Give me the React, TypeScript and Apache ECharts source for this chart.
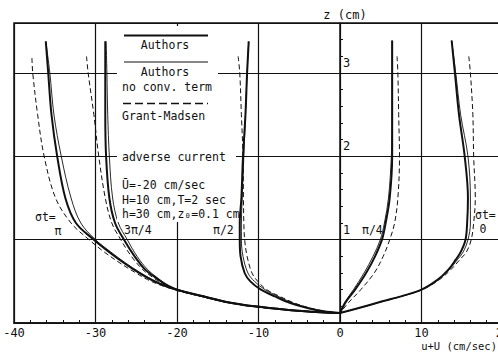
import React, { useEffect, useRef } from "react";
import * as echarts from "echarts";

// Axis settings
const xMin = -40;
const xMax = 20;
const xStep = 10;
const zMin = 0;
const zMax = 3.6;
const zMinorStep = 0.2;
const zLabels = [1, 2, 3];

// Shared near-bed segments (σt = π and 3π/4)
const tailSolid = [[-20.0, 0.40], [-16.8, 0.32], [-13.8, 0.25], [-10.5, 0.2], [-6.6, 0.16], [-2.4, 0.13], [0, 0.12]];
const tailDashed = [[-20.3, 0.40], [-17.1, 0.32], [-14.0, 0.25], [-10.7, 0.2], [-6.8, 0.16], [-2.5, 0.13], [0, 0.12]];

// σt = π
const piAuthors = [[-36.1, 3.38], [-35.8, 3.0], [-35.4, 2.5], [-34.7, 2.0], [-33.7, 1.5], [-32.4, 1.2], [-30.2, 1.0], [-28.3, 0.85], [-26.5, 0.72], [-24.8, 0.61], [-23.2, 0.52], [-21.6, 0.45]];
const piNoConv = [[-36.1, 3.38], [-35.6, 3.0], [-35.1, 2.5], [-34.2, 2.0], [-33.0, 1.5], [-31.8, 1.2], [-30.0, 1.0], [-28.1, 0.85], [-26.3, 0.72], [-24.6, 0.61], [-23.0, 0.52], [-21.5, 0.45]];
const piGM = [[-37.8, 3.18], [-37.7, 3.0], [-37.1, 2.5], [-36.3, 2.0], [-34.9, 1.5], [-33.0, 1.2], [-30.8, 1.0], [-28.9, 0.85], [-27.0, 0.72], [-25.2, 0.61], [-23.6, 0.52], [-21.9, 0.45]];

// σt = 3π/4
const p34Authors = [[-28.8, 3.38], [-28.8, 3.0], [-28.8, 2.5], [-28.7, 2.0], [-28.3, 1.5], [-27.6, 1.2], [-26.5, 1.0], [-25.2, 0.8], [-23.9, 0.64], [-22.7, 0.55], [-21.5, 0.47]];
const p34NoConv = [[-28.7, 3.38], [-28.6, 3.0], [-28.5, 2.5], [-28.3, 2.0], [-27.9, 1.5], [-27.2, 1.2], [-26.1, 1.0], [-24.9, 0.8], [-23.6, 0.64], [-22.5, 0.55], [-21.4, 0.47]];
const p34GM = [[-31.1, 3.2], [-30.9, 3.0], [-30.2, 2.5], [-29.6, 2.0], [-28.8, 1.5], [-28.0, 1.2], [-26.9, 1.0], [-25.6, 0.8], [-24.2, 0.64], [-23.0, 0.55], [-21.8, 0.47]];

// σt = π/2
const p2Authors = [[-11.2, 3.38], [-11.4, 3.0], [-11.6, 2.5], [-11.9, 2.0], [-12.1, 1.5], [-12.3, 1.2], [-12.3, 1.0], [-12.2, 0.8], [-11.7, 0.6], [-11.0, 0.5], [-9.7, 0.4], [-8.0, 0.32], [-6.1, 0.24], [-4.0, 0.18], [-2.0, 0.14], [0, 0.12]];
const p2NoConv = [[-11.2, 3.38], [-11.4, 3.0], [-11.6, 2.5], [-11.8, 2.0], [-12.0, 1.5], [-12.1, 1.2], [-12.1, 1.0], [-11.9, 0.8], [-11.3, 0.6], [-10.5, 0.5], [-9.2, 0.4], [-7.6, 0.32], [-5.8, 0.24], [-3.8, 0.18], [-1.9, 0.14], [0, 0.12]];
const p2GM = [[-12.5, 3.2], [-12.3, 3.0], [-12.1, 2.5], [-11.9, 2.0], [-11.85, 1.5], [-11.8, 1.2], [-11.7, 1.0], [-11.4, 0.8], [-10.8, 0.6], [-10.1, 0.5], [-9.0, 0.4], [-7.4, 0.32], [-5.6, 0.24], [-3.7, 0.18], [-1.8, 0.14], [0, 0.12]];

// σt = π/4
const p4Authors = [[6.4, 3.39], [6.4, 3.0], [6.4, 2.5], [6.4, 2.0], [6.1, 1.5], [5.6, 1.2], [5.15, 1.0], [4.3, 0.8], [3.2, 0.6], [1.85, 0.4], [0.7, 0.25], [0, 0.12]];
const p4NoConv = [[6.4, 3.39], [6.4, 3.0], [6.4, 2.5], [6.3, 2.0], [5.95, 1.5], [5.45, 1.2], [4.95, 1.0], [4.05, 0.8], [2.95, 0.6], [1.65, 0.4], [0.6, 0.25], [0, 0.12]];
const p4GM = [[7.0, 3.2], [7.1, 3.0], [7.2, 2.5], [7.3, 2.0], [7.1, 1.5], [6.7, 1.2], [6.1, 1.0], [5.3, 0.8], [4.2, 0.6], [2.55, 0.4], [1.1, 0.25], [0, 0.12]];

// σt = 0
const p0Authors = [[13.7, 3.39], [14.1, 3.0], [14.6, 2.5], [15.3, 2.0], [15.7, 1.5], [15.6, 1.2], [15.4, 1.0], [14.8, 0.85], [14.2, 0.76], [13.3, 0.64], [12.0, 0.52], [10.0, 0.4], [7.5, 0.32], [5.2, 0.26], [2.3, 0.18], [0, 0.12]];
const p0NoConv = [[13.7, 3.39], [14.2, 3.0], [14.8, 2.5], [15.7, 2.0], [16.0, 1.5], [16.0, 1.2], [15.7, 1.0], [15.1, 0.85], [14.4, 0.76], [13.4, 0.64], [12.0, 0.52], [10.0, 0.4], [7.5, 0.32], [5.2, 0.26], [2.3, 0.18], [0, 0.12]];
const p0GM = [[15.8, 3.2], [16.0, 3.0], [16.3, 2.5], [16.4, 2.0], [16.6, 1.5], [16.4, 1.2], [16.1, 1.0], [15.5, 0.85], [14.7, 0.76], [13.6, 0.64], [12.2, 0.52], [10.1, 0.4], [7.6, 0.32], [5.3, 0.26], [2.4, 0.18], [0, 0.12]];

const INK = "#111";
const MONO = '"DejaVu Sans Mono", monospace';

// Layout
const W = 498;
const GRID_LEFT = 14;
const GRID_RIGHT = -5;

type Kind = "authors" | "noconv" | "gm";
const curves: { name: string; kind: Kind; data: number[][] }[] = [
  { name: "π Authors", kind: "authors", data: [...piAuthors, ...tailSolid] },
  { name: "π no conv", kind: "noconv", data: [...piNoConv, ...tailSolid] },
  { name: "π Grant-Madsen", kind: "gm", data: [...piGM, ...tailDashed] },
  { name: "3π/4 Authors", kind: "authors", data: [...p34Authors, ...tailSolid] },
  { name: "3π/4 no conv", kind: "noconv", data: [...p34NoConv, ...tailSolid] },
  { name: "3π/4 Grant-Madsen", kind: "gm", data: [...p34GM, ...tailDashed] },
  { name: "π/2 Authors", kind: "authors", data: p2Authors },
  { name: "π/2 no conv", kind: "noconv", data: p2NoConv },
  { name: "π/2 Grant-Madsen", kind: "gm", data: p2GM },
  { name: "π/4 Authors", kind: "authors", data: p4Authors },
  { name: "π/4 no conv", kind: "noconv", data: p4NoConv },
  { name: "π/4 Grant-Madsen", kind: "gm", data: p4GM },
  { name: "0 Authors", kind: "authors", data: p0Authors },
  { name: "0 no conv", kind: "noconv", data: p0NoConv },
  { name: "0 Grant-Madsen", kind: "gm", data: p0GM },
];

function txt(text: string, x: number, y: number, align = "left", size = 11.5) {
  return {
    type: "text",
    z: 12,
    style: {
      text,
      x,
      y,
      fill: INK,
      font: `${size}px ${MONO}`,
      align,
      verticalAlign: "middle",
      textAlign: align,
      textVerticalAlign: "middle",
    },
  };
}

export default function App() {
  const ref = useRef<HTMLDivElement>(null);
  useEffect(() => {
    if (!ref.current) return;
    const chart = echarts.init(ref.current, null, { renderer: "svg" });
    const isLabel = (v: number) => zLabels.some((l) => Math.abs(l - v) < 1e-6);
    const gridWidth = W - GRID_LEFT - GRID_RIGHT;
    const zeroOffset = -((0 - xMin) / (xMax - xMin)) * gridWidth;
    chart.setOption({
      animation: false,
      backgroundColor: "#fff",
      grid: {
        left: GRID_LEFT,
        right: GRID_RIGHT,
        top: 23,
        bottom: 29,
        containLabel: false,
        outerBoundsMode: "none",
        show: true,
        borderColor: INK,
        borderWidth: 1.5,
        backgroundColor: "transparent",
      },
      xAxis: {
        type: "value",
        min: xMin,
        max: xMax,
        interval: xStep,
        axisLine: { onZero: false, lineStyle: { color: INK, width: 1.5 } },
        axisTick: { show: true, inside: true, length: 4, lineStyle: { color: INK } },
        minorTick: { show: true, splitNumber: 5, length: 3, lineStyle: { color: INK } },
        axisLabel: { color: INK, fontFamily: MONO, fontSize: 12, margin: 4, hideOverlap: false },
        splitLine: { show: true, lineStyle: { color: INK, width: 1.2 } },
      },
      yAxis: [
        {
          type: "value",
          min: zMin,
          max: zMax,
          interval: zMinorStep,
          position: "left",
          offset: zeroOffset,
          axisLine: { onZero: false, lineStyle: { color: INK, width: 1.5 } },
          axisTick: { show: true, inside: true, length: 3, lineStyle: { color: INK } },
          axisLabel: {
            inside: true,
            margin: 3,
            color: INK,
            fontFamily: MONO,
            fontSize: 12,
            verticalAlign: "bottom",
            padding: [0, 0, 4, 0],
            formatter: (v: number) => (isLabel(v) ? String(Math.round(v)) : ""),
          },
          splitLine: { show: false },
        },
        {
          type: "value",
          min: zMin,
          max: zMax,
          interval: 1,
          position: "right",
          axisLine: { show: false },
          axisTick: { show: false },
          axisLabel: { show: false },
          splitLine: { show: true, lineStyle: { color: INK, width: 1.2 } },
        },
      ],
      series: curves.map((c) => ({
        name: c.name,
        type: "line",
        data: c.data,
        showSymbol: false,
        smooth: 0.35,
        clip: true,
        z: 3,
        lineStyle: {
          color: INK,
          width: c.kind === "authors" ? 2 : c.kind === "noconv" ? 0.9 : 1,
          type: c.kind === "gm" ? [5, 3] : "solid",
        },
      })),
      graphic: [
        { type: "rect", z: 10, shape: { x: 117, y: 26, width: 101, height: 196 }, style: { fill: "#fff" } },
        { type: "rect", z: 10, shape: { x: 117, y: 150, width: 119, height: 14 }, style: { fill: "#fff" } },
        { type: "rect", z: 10, shape: { x: 117, y: 177, width: 118, height: 45 }, style: { fill: "#fff" } },
        { type: "line", z: 11, shape: { x1: 124, y1: 35.5, x2: 208, y2: 35.5 }, style: { stroke: INK, lineWidth: 2.2 } },
        txt("Authors", 165, 44.5, "center"),
        { type: "line", z: 11, shape: { x1: 124, y1: 62, x2: 208, y2: 62 }, style: { stroke: INK, lineWidth: 1 } },
        txt("Authors", 165, 72, "center"),
        txt("no conv. term", 122, 87),
        { type: "line", z: 11, shape: { x1: 123, y1: 103.5, x2: 208, y2: 103.5 }, style: { stroke: INK, lineWidth: 1.6, lineDash: [8, 4] } },
        txt("Grant-Madsen", 122, 115.5),
        txt("adverse current", 122, 157),
        txt("Ū=-20 cm/sec", 122, 185),
        txt("H=10 cm,T=2 sec", 122, 199.5),
        txt("h=30 cm,z₀=0.1 cm", 122, 213.5),
        txt("3π/4", 124, 230),
        txt("σt=", 35, 216.5),
        txt("π", 58, 231, "center"),
        txt("π/2", 213, 230),
        txt("π/4", 362, 230),
        txt("σt=", 475, 215),
        txt("0", 483, 229, "center"),
        txt("z (cm)", 345, 15, "center", 12),
        txt("u+U (cm/sec)", 497, 345.5, "right", 10.5),
      ],
    });
    return () => chart.dispose();
  }, []);
  return (
    <div
      ref={ref}
      style={{ position: "fixed", left: 0, top: 0, width: W, height: 352, background: "#fff" }}
    />
  );
}
